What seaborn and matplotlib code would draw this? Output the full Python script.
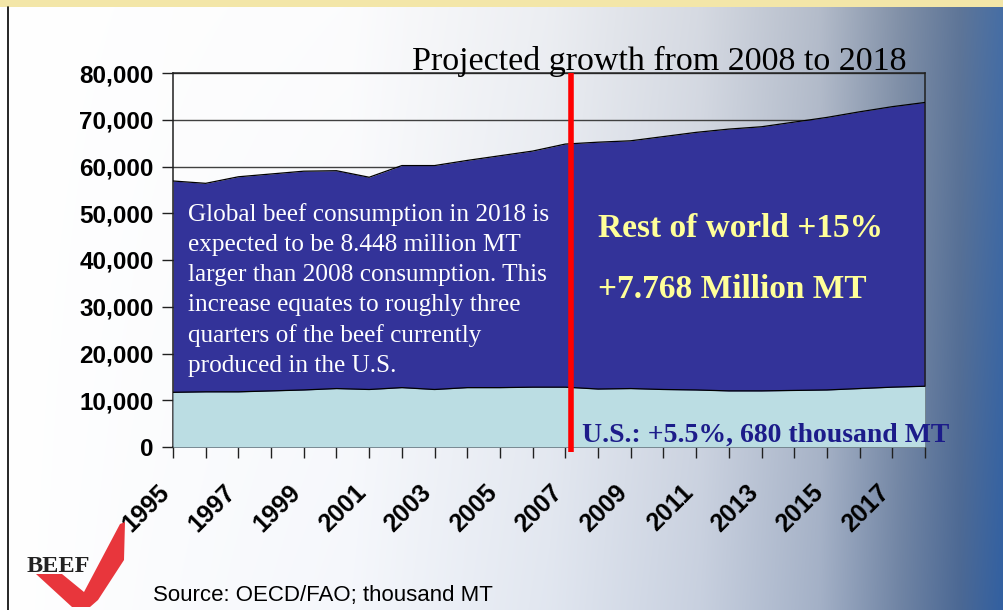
import numpy as np
import pandas as pd
import matplotlib
matplotlib.use("Agg")
import matplotlib.pyplot as plt
import matplotlib.transforms as mtransforms
from matplotlib.patches import Polygon
import seaborn as sns

# ---------------- data (thousand MT) ----------------
years = list(range(1995, 2019))
us_consumption = [11700, 11800, 11800, 12000, 12200, 12500, 12300, 12700, 12300, 12700,
                  12700, 12800, 12800, 12400, 12500, 12300, 12200, 12000, 12000, 12100,
                  12200, 12500, 12800, 13000]
world_total = [56900, 56400, 57800, 58400, 59000, 59100, 57700, 60200, 60200, 61300,
               62300, 63300, 64800, 65200, 65500, 66400, 67300, 68000, 68500, 69500,
               70500, 71700, 72800, 73700]
ytick_values = [0, 10000, 20000, 30000, 40000, 50000, 60000, 70000, 80000]
xtick_labels = [str(y) for y in range(1995, 2018, 2)]
divider_year = 2007.17

title_text = "Projected growth from 2008 to 2018"
note_lines = ["Global beef consumption in 2018 is",
              "expected to be 8.448 million MT",
              "larger than 2008 consumption. This",
              "increase equates to roughly three",
              "quarters of the beef currently",
              "produced in the U.S."]
row_lines = ["Rest of world +15%", "+7.768 Million MT"]
us_text = "U.S.: +5.5%, 680 thousand MT"
source_text = "Source: OECD/FAO; thousand MT"

df = pd.DataFrame({"year": years, "us": us_consumption, "total": world_total})

# ---------------- figure ----------------
sns.set_theme(style="white")
plt.rcParams["font.family"] = ["Liberation Sans", "DejaVu Sans"]
plt.rcParams["text.color"] = "black"
plt.rcParams["xtick.color"] = "black"
plt.rcParams["ytick.color"] = "black"

W, H = 1004, 610
fig = plt.figure(figsize=(W / 100, H / 100), dpi=100)


def fx(x):
    return x / W


def fy(y):
    return 1 - y / H


# background gradient
bg = fig.add_axes([0, 0, 1, 1], zorder=-10)
bg.set_axis_off()
xs = np.linspace(0, W, W)
stops_x = [0, 350, 550, 700, 820, 900, 960, 1004]
stops_c = np.array([[255, 255, 255], [252, 252, 253], [236, 238, 242], [214, 218, 226],
                    [180, 188, 202], [130, 145, 168], [95, 118, 152], [70, 110, 165]]) / 255
row = np.stack([np.interp(xs, stops_x, stops_c[:, i]) for i in range(3)], axis=-1)
img = np.repeat(row[None, :, :], H, axis=0)
yy = np.linspace(0, 1, H)[:, None]
shade = (yy * 0.08) * (xs[None, :] / W)
img = np.clip(img - shade[:, :, None] * np.array([1.0, 0.7, 0.2]), 0, 1)
img[:7, :, :] = np.array([243, 230, 168]) / 255
bg.imshow(img, aspect="auto", extent=[0, 1, 0, 1], transform=bg.transAxes)
fig.add_artist(plt.Line2D([fx(8), fx(8)], [0, fy(7)], color="black", lw=1.2))

# main axes
ax = fig.add_axes([fx(173), fy(447), fx(925 - 173), (447 - 73) / H])
ax.patch.set_alpha(0)

navy = "#333399"
light = "#BBDDE3"
ax.fill_between(df["year"], 0, df["total"], color=navy, zorder=2, lw=0)
ax.fill_between(df["year"], 0, df["us"], color=light, zorder=3, lw=0)
sns.lineplot(data=df, x="year", y="total", ax=ax, color="black", lw=0.9, zorder=4)
sns.lineplot(data=df, x="year", y="us", ax=ax, color="black", lw=0.9, zorder=4)

ax.set_xlim(1995, 2018)
ax.set_ylim(0, 80000)
ax.set_xlabel("")
ax.set_ylabel("")
ax.set_yticks(ytick_values)
ax.set_yticklabels([f"{v:,}" for v in ytick_values], fontsize=17.5, fontweight="bold",
                   color="black")
ax.yaxis.grid(True, color="#404040", lw=1)
ax.xaxis.grid(False)
ax.set_axisbelow(True)
for s in ax.spines.values():
    s.set_visible(True)
    s.set_color("#202020")
    s.set_linewidth(1.1)

ax.set_xticks(list(range(1995, 2018, 2)))
ax.set_xticks(list(range(1996, 2019, 2)), minor=True)
ax.set_xticklabels(xtick_labels, fontsize=18, fontweight="bold", rotation=45, color="black",
                   ha="right", va="center", rotation_mode="anchor")
ax.tick_params(axis="x", which="both", direction="out", length=8, width=1, color="#202020",
               bottom=True, pad=22)
ax.tick_params(axis="y", direction="out", length=8, width=1, color="#202020", left=True, pad=6)
offset = mtransforms.ScaledTranslation(-7 / 100, 0, fig.dpi_scale_trans)
for lab in ax.get_xticklabels():
    lab.set_transform(lab.get_transform() + offset)

# red divider line
ax.plot([divider_year, divider_year], [-1100, 80000], color="#FF0000", lw=4, zorder=6,
        clip_on=False, solid_capstyle="butt")

# texts
serif = ["Liberation Serif", "DejaVu Serif"]
fig.text(fx(659), fy(70), title_text, family=serif, fontsize=24.5, ha="center", va="baseline",
         color="black")
baselines = [221, 251, 281, 311, 342, 372]
for line, b in zip(note_lines, baselines):
    fig.text(fx(188), fy(b), line, family=serif, fontsize=18.2, color="white", ha="left",
             va="baseline")
for line, b in zip(row_lines, [237, 298]):
    fig.text(fx(598), fy(b), line, family=serif, fontsize=24, fontweight="bold",
             color="#FFFF99", ha="left", va="baseline")
fig.text(fx(582), fy(442), us_text, family=serif, fontsize=20, fontweight="bold",
         color="#1C1C8A", ha="left", va="baseline")
fig.text(fx(153), fy(601), source_text, fontsize=16, color="black", ha="left", va="baseline")

# BEEF logo
logo_pts = [(36, 574), (62, 574), (84, 592), (120, 524), (125, 522), (124, 560),
            (98, 600), (90, 607), (72, 607)]
fig.add_artist(Polygon([(fx(x), fy(y)) for x, y in logo_pts], closed=True,
                       facecolor="#E8363C", edgecolor="none", transform=fig.transFigure))
fig.text(fx(27), fy(572), "BEEF", family=serif, fontsize=17.5, fontweight="bold",
         color="#222222", ha="left", va="baseline")

fig.savefig("out.png", dpi=100)
